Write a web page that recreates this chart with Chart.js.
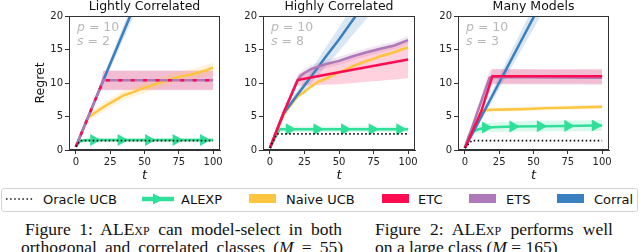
<!DOCTYPE html>
<html>
<head>
<meta charset="utf-8">
<script src="https://cdn.jsdelivr.net/npm/chart.js@4.4.1/dist/chart.umd.min.js"></script>
<style>
body{margin:0;width:640px;height:252px;overflow:hidden;background:#fff;position:relative;font-family:'DejaVu Sans',sans-serif;color:#111}
canvas{position:absolute;top:0}
#legend{position:absolute;left:1px;top:188px;width:635px;height:22px;border:1px solid #d4d4d4;border-radius:3px}
#legend .tx{position:absolute;top:3px;font-size:13px;line-height:15px;white-space:nowrap}
#legend .bx{position:absolute;top:5px;width:27px;height:9px}
#legend svg{position:absolute}
.cap{position:absolute;font-family:'Liberation Serif','Times New Roman',serif;font-size:17.5px;line-height:17.5px;white-space:nowrap;text-align:justify;text-align-last:justify}
.sc{font-variant:small-caps}
</style>
</head>
<body>
<canvas id="c1" width="225" height="185" style="left:0px"></canvas>
<canvas id="c2" width="195" height="185" style="left:225px"></canvas>
<canvas id="c3" width="200" height="185" style="left:415px"></canvas>

<div id="legend">
  <svg style="left:4px;top:8px" width="28" height="4"><line x1="0" y1="2" x2="28" y2="2" stroke="#111" stroke-width="1.5" stroke-dasharray="1.5,2.6"/></svg>
  <span class="tx" style="left:41px">Oracle UCB</span>
  <svg style="left:140px;top:4px" width="32" height="12"><line x1="0" y1="6" x2="32" y2="6" stroke="#30e09a" stroke-width="4.5"/><polygon points="11,0.5 22,6 11,11.5" fill="#30e09a"/></svg>
  <span class="tx" style="left:179px">ALEXP</span>
  <span class="bx" style="left:247px;background:#fdc540"></span>
  <span class="tx" style="left:284px">Naive UCB</span>
  <span class="bx" style="left:380px;background:#fe0c52"></span>
  <span class="tx" style="left:416px">ETC</span>
  <span class="bx" style="left:467px;background:#ae79b8"></span>
  <span class="tx" style="left:504px">ETS</span>
  <span class="bx" style="left:555px;background:#3a7fc0"></span>
  <span class="tx" style="left:592px">Corral</span>
</div>

<div class="cap" style="left:25px;top:221px;width:317px">Figure 1: AL<span class="sc">Exp</span> can model-select in both</div>
<div class="cap" style="left:21px;top:239px;width:322px">orthogonal and correlated classes (<i>M</i> = 55)</div>
<div class="cap" style="left:375px;top:221px;width:238px">Figure 2: AL<span class="sc">Exp</span> performs well</div>
<div class="cap" style="left:375px;top:239px;text-align:left;text-align-last:left">on a large class (<i>M</i> = 165)</div>

<script>
var xTicks = [0, 25, 50, 75, 100];
var yTicks = [0, 5, 10, 15, 20];

// [t, regret, half width of shaded band]
var lightOracle = [[0,0.5,0],[3,1.4,0],[100,1.4,0]];
var lightAlexp  = [[0,0.5,0.1],[3,1.3,0.3],[6,1.45,0.3],[13,1.5,0.3],[33,1.5,0.3],[53,1.5,0.3],[73,1.5,0.3],[93,1.5,0.3],[100,1.5,0.3]];
var lightNaive  = [[0,0.5,0.1],[9,4.9,0.4],[10,5.0,0.5],[15,5.7,0.6],[20,6.4,0.7],[25,7.0,0.7],[30,7.6,0.7],[35,8.2,0.7],[40,8.5,0.7],[45,8.9,0.7],[50,9.3,0.8],[55,9.6,0.8],[60,10.0,0.8],[65,10.3,0.8],[70,10.6,0.8],[75,10.9,0.8],[80,11.1,0.8],[85,11.3,0.8],[90,11.6,0.8],[95,11.9,0.8],[100,12.3,0.8]];
var lightEtc    = [[0,0.5,0.1],[18,9.4,0.5],[20,10.4,1.4],[100,10.4,1.4]];
var lightEts    = [[0,0.5,0.1],[18,9.4,0.5],[20,10.4,1.5],[100,10.4,1.5]];
var lightCorral = [[0,0.5,0.05],[20,10.4,0.6],[40,20.2,1.2],[100,49.5,3.0]];

var highOracle = [[0,0.3,0],[5,2.4,0],[100,2.4,0]];
var highAlexp  = [[0,0.3,0.1],[7,3.1,0.4],[14,3.1,0.4],[34,3.1,0.4],[54,3.1,0.4],[74,3.1,0.4],[94,3.1,0.4],[100,3.1,0.4]];
var highNaive  = [[0,0.3,0.1],[5,2.8,0.2],[10,5.3,0.3],[15,6.7,0.3],[20,8.0,0.3],[25,8.7,0.3],[30,9.5,0.3],[35,10.2,0.3],[40,10.6,0.3],[45,11.1,0.3],[50,11.6,0.3],[55,12.0,0.3],[60,12.5,0.3],[65,12.9,0.3],[70,13.3,0.3],[75,13.6,0.3],[80,14.0,0.3],[85,14.3,0.3],[90,14.6,0.3],[95,15.0,0.3],[100,15.3,0.3]];
var highEtc    = [[0,0.3,0.1],[10,5.6,0.4],[20,10.4,0.6],[21,10.5,0.9],[50,11.6,1.8],[100,13.5,2.8]];
var highEts    = [[0,0.3,0.1],[10,5.6,0.4],[20,10.4,0.6],[22,11.0,0.6],[25,11.5,0.6],[30,12.1,0.6],[40,12.8,0.6],[50,13.3,0.6],[60,14.0,0.6],[70,14.6,0.6],[80,15.1,0.6],[90,15.6,0.6],[100,16.4,0.6]];
var highCorral = [[0,0.3,0.1],[10,5.5,0.3],[20,8.3,0.6],[30,11.0,1.0],[40,13.8,1.4],[50,16.5,1.8],[60,19.4,2.2],[70,22.2,2.6],[100,31.0,4.0]];

var manyOracle = [[0,0.3,0],[5,1.4,0],[100,1.4,0]];
var manyAlexp  = [[0,0.3,0.1],[3,2.2,0.4],[5,2.7,0.5],[10,3.1,0.6],[15,3.35,0.7],[20,3.4,0.7],[35,3.5,0.75],[55,3.55,0.8],[75,3.6,0.8],[95,3.65,0.8],[100,3.65,0.8]];
var manyNaive  = [[0,0.3,0.1],[12,5.9,0.3],[20,6.0,0.3],[40,6.1,0.3],[60,6.25,0.3],[80,6.35,0.3],[100,6.45,0.3]];
var manyEtc    = [[0,0.3,0.1],[12,5.8,0.4],[20,11.0,1.1],[100,11.0,1.1]];
var manyEts    = [[0,0.3,0.1],[18,10.8,1.1],[20,10.9,1.1],[100,10.8,1.1]];
var manyCorral = [[0,0.3,0.05],[10,4.2,0.4],[20,8.1,0.8],[30,12.0,1.1],[40,15.9,1.4],[50,19.8,1.7],[100,39.3,3.0]];

var COL = {oracle:'#111111', alexp:'#30e09a', naive:'#fdc540', etc:'#fe0c52', ets:'#ae79b8', corral:'#3a7fc0'};
var LINE_ORDER = {oracle:0, etc:1, ets:2, corral:3, naive:4, alexp:5};

function baut(series, markT, etcDash) {
  var ds = [];
  series.forEach(function(s){
    var c = COL[s.key];
    if (s.key !== 'oracle') {
      ds.push({data:s.pts.map(function(p){return {x:p[0], y:p[1]-p[2]};}), borderWidth:0, pointRadius:0, fill:false, order:100});
      ds.push({data:s.pts.map(function(p){return {x:p[0], y:p[1]+p[2]};}), borderWidth:0, pointRadius:0, fill:'-1', backgroundColor:c+'30', order:100});
    }
    var d = {data:s.pts.map(function(p){return {x:p[0], y:p[1]};}), borderColor:c, backgroundColor:c, borderWidth:2.5, pointRadius:0, fill:false, tension:0, order:LINE_ORDER[s.key]};
    if (s.key === 'oracle') { d.borderWidth = 1.6; d.borderDash = [1.6, 2.4]; }
    if (s.key === 'etc' && etcDash) { d.borderDash = [4, 8.4]; }
    if (s.key === 'alexp') {
      d.pointStyle = 'triangle';
      d.rotation = 90;
      d.pointRadius = function(ctx){ return ctx.raw && markT.indexOf(ctx.raw.x) >= 0 ? 4.5 : 0; };
    }
    ds.push(d);
  });
  return ds;
}

var rahmen = {
  id:'rahmen',
  afterDatasetsDraw:function(chart, args, o){
    var a = chart.chartArea, ctx = chart.ctx;
    ctx.save();
    ctx.fillStyle = '#b8b8b8';
    ctx.textBaseline = 'alphabetic';
    var x = a.left + 8;
    [[o.p, 'p', 15], [o.s, 's', 29]].forEach(function(r){
      ctx.font = 'italic 12.5px "DejaVu Sans"';
      ctx.fillText(r[1], x, a.top + r[2]);
      var w = ctx.measureText(r[1]).width;
      ctx.font = '12.5px "DejaVu Sans"';
      ctx.fillText(' = ' + r[0], x + w, a.top + r[2]);
    });
    ctx.restore();
  },
  afterDraw:function(chart, args, o){
    var a = chart.chartArea, ctx = chart.ctx;
    ctx.save();
    ctx.strokeStyle = '#333';
    ctx.lineWidth = 1;
    ctx.strokeRect(Math.round(a.left)+0.5, Math.round(a.top)+0.5, Math.round(a.right-a.left)-1, Math.round(a.bottom-a.top)-1);
    ctx.fillStyle = '#111';
    ctx.font = '12.5px "DejaVu Sans"';
    ctx.textAlign = 'center';
    ctx.fillText(o.title, (a.left+a.right)/2, 10);
    ctx.restore();
  }
};

function panel(id, cfg) {
  var tickFont = {family:'DejaVu Sans', size:10};
  new Chart(document.getElementById(id), {
    type:'line',
    data:{datasets:baut(cfg.series, cfg.markT, cfg.etcDash)},
    plugins:[rahmen],
    options:{
      responsive:false,
      animation:false,
      devicePixelRatio:1,
      layout:{padding:{left:cfg.padL, right:cfg.padR, top:16, bottom:0}},
      plugins:{legend:{display:false}, tooltip:{enabled:false}, rahmen:{title:cfg.title, p:cfg.p, s:cfg.s}},
      scales:{
        x:{
          type:'linear', min:-5, max:105,
          afterBuildTicks:function(s){ s.ticks = xTicks.map(function(v){return {value:v};}); },
          afterFit:function(s){ s.height = 35; },
          ticks:{font:tickFont, color:'#222', padding:2, maxRotation:0},
          grid:{display:true, drawOnChartArea:false, drawTicks:true, tickLength:4, color:'#333'},
          border:{display:true, color:'#333'},
          title:{display:true, text:'t', font:{family:'DejaVu Sans', size:13, style:'italic'}, color:'#111', padding:{top:0, bottom:2}}
        },
        y:{
          type:'linear', min:0, max:20,
          afterBuildTicks:function(s){ s.ticks = yTicks.map(function(v){return {value:v};}); },
          afterFit:function(s){ s.width = cfg.yW; },
          ticks:{font:tickFont, color:'#222', padding:2},
          grid:{display:true, drawOnChartArea:false, drawTicks:true, tickLength:4, color:'#333'},
          border:{display:true, color:'#333'},
          title:{display:cfg.yTitle, text:'Regret', font:{family:'DejaVu Sans', size:12.5}, color:'#111', padding:{top:4, bottom:0}}
        }
      }
    }
  });
}

panel('c1', {title:'Lightly Correlated', p:10, s:2, padL:29, padR:5, yW:40, yTitle:true, etcDash:true, markT:[13,33,53,73,93],
  series:[{key:'oracle',pts:lightOracle},{key:'alexp',pts:lightAlexp},{key:'naive',pts:lightNaive},{key:'etc',pts:lightEtc},{key:'ets',pts:lightEts},{key:'corral',pts:lightCorral}]});
panel('c2', {title:'Highly Correlated', p:10, s:8, padL:0, padR:5, yW:38, yTitle:false, etcDash:false, markT:[14,34,54,74,94],
  series:[{key:'oracle',pts:highOracle},{key:'alexp',pts:highAlexp},{key:'naive',pts:highNaive},{key:'etc',pts:highEtc},{key:'ets',pts:highEts},{key:'corral',pts:highCorral}]});
panel('c3', {title:'Many Models', p:10, s:3, padL:0, padR:6, yW:43, yTitle:false, etcDash:false, markT:[15,35,55,75,95],
  series:[{key:'oracle',pts:manyOracle},{key:'alexp',pts:manyAlexp},{key:'naive',pts:manyNaive},{key:'etc',pts:manyEtc},{key:'ets',pts:manyEts},{key:'corral',pts:manyCorral}]});
</script>
</body>
</html>
